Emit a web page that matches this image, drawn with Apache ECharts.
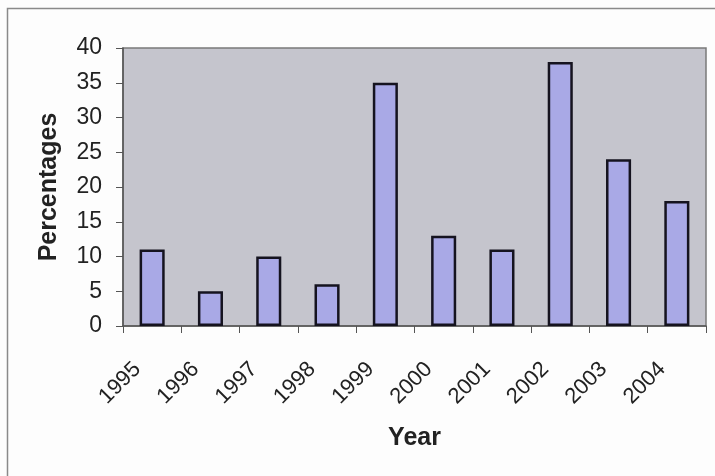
<!DOCTYPE html>
<html>
<head>
<meta charset="utf-8">
<script src="https://cdn.jsdelivr.net/npm/echarts@6/dist/echarts.min.js"></script>
<style>
  html, body { margin: 0; padding: 0; background: #fdfdfd; }
  #chart { width: 715px; height: 476px; }
</style>
</head>
<body>
<div id="chart"></div>
<script>
// Yearly percentages, 1995-2004
const years = ['1995', '1996', '1997', '1998', '1999', '2000', '2001', '2002', '2003', '2004'];
const percentages = [11, 5, 10, 6, 35, 13, 11, 38, 24, 18];
const yTicks = { min: 0, max: 40, interval: 5 };

const chart = echarts.init(document.getElementById('chart'));
chart.setOption({
  backgroundColor: '#fdfdfd',
  animation: false,
  graphic: [{
    type: 'rect',
    shape: { x: 7.5, y: 8.5, width: 720, height: 480 },
    style: { fill: 'none', stroke: '#8a8a8a', lineWidth: 1.5 },
    z: -1
  }],
  grid: {
    left: 123, right: 9, top: 48, bottom: 150,
    show: true,
    backgroundColor: '#c5c5cd',
    borderColor: '#7a7a7a',
    borderWidth: 1.5
  },
  xAxis: {
    type: 'category',
    data: years,
    name: 'Year',
    nameLocation: 'middle',
    nameGap: 100,
    nameTextStyle: { fontFamily: 'Liberation Sans', fontWeight: 'bold', fontSize: 25, color: '#222' },
    axisLine: { lineStyle: { color: '#555', width: 1.5 } },
    axisTick: { show: true, length: 7, lineStyle: { color: '#555' } },
    axisLabel: {
      rotate: 45,
      margin: 25,
      padding: [0, 21, 0, 0],
      fontFamily: 'Liberation Sans',
      fontSize: 22,
      color: '#222'
    },
    splitLine: { show: false }
  },
  yAxis: {
    type: 'value',
    min: yTicks.min,
    max: yTicks.max,
    interval: yTicks.interval,
    name: 'Percentages',
    nameLocation: 'middle',
    nameGap: 61,
    nameTextStyle: { fontFamily: 'Liberation Sans', fontWeight: 'bold', fontSize: 25, color: '#222' },
    axisLine: { show: true, lineStyle: { color: '#555', width: 1.5 } },
    axisTick: { show: true, length: 7, lineStyle: { color: '#555' } },
    axisLabel: {
      margin: 21,
      fontFamily: 'Liberation Sans',
      fontSize: 23,
      color: '#222'
    },
    splitLine: { show: false }
  },
  series: [{
    type: 'bar',
    data: percentages,
    barWidth: '43%',
    itemStyle: {
      color: '#a9a9e6',
      borderColor: '#15131f',
      borderWidth: 2.5
    }
  }]
});
</script>
</body>
</html>
